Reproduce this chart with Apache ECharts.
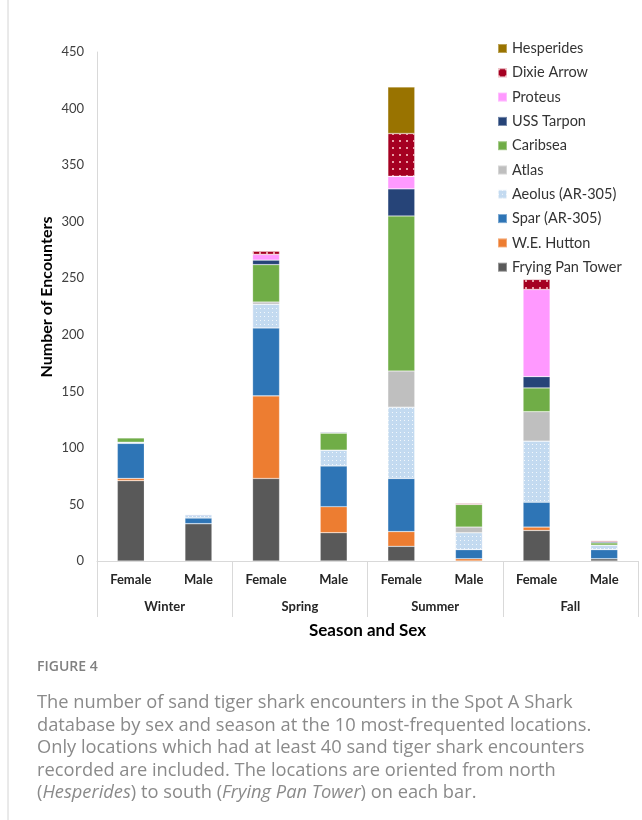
<!DOCTYPE html>
<html lang="en">
<head>
    <meta charset="UTF-8">
    <title>Figure 4</title>
    <script src="https://cdn.jsdelivr.net/npm/echarts@6/dist/echarts.min.js"></script>
    <style>
        html, body {margin: 0; padding: 0; background: #fff;}
        #main {width: 642px; height: 820px;}
    </style>
</head>
<body>
<div id="main"></div>
<script>
    // categories
    let sexLabels = ['Female', 'Male', 'Female', 'Male', 'Female', 'Male', 'Female', 'Male'];
    let seasons = ['Winter', 'Spring', 'Summer', 'Fall'];
    let yTicks = [0, 50, 100, 150, 200, 250, 300, 350, 400, 450];

    // encounters per location, order: Winter F/M, Spring F/M, Summer F/M, Fall F/M
    let fryingPanTower = [71, 33, 73, 25, 13, 0, 27, 2];
    let weHutton = [2, 0, 73, 23, 13, 2, 3, 0];
    let spar = [31, 5, 60, 36, 47, 8, 22, 8];
    let aeolus = [1, 3, 21, 14, 63, 15, 54, 4];
    let atlas = [0, 0, 2, 0, 32, 5, 26, 0];
    let caribsea = [4, 0, 33, 15, 137, 20, 21, 2];
    let ussTarpon = [0, 0, 4, 1, 24, 0, 10, 1];
    let proteus = [0, 0, 5, 0, 11, 0, 77, 0];
    let dixieArrow = [0, 0, 3, 0, 38, 1, 9, 1];
    let hesperides = [0, 0, 0, 0, 41, 0, 0, 0];

    let font = 'Lato, "Open Sans", sans-serif';

    // bottom to top
    let layers = [
        {name: 'Frying Pan Tower', data: fryingPanTower, color: '#595959'},
        {name: 'W.E. Hutton', data: weHutton, color: '#ed7d31'},
        {name: 'Spar (AR-305)', data: spar, color: '#2e75b6'},
        {name: 'Aeolus (AR-305)', data: aeolus, color: '#c3daf0',
            decal: {symbol: 'rect', symbolSize: 1, color: 'rgba(255,255,255,0.8)', dashArrayX: [1, 2.5], dashArrayY: [1, 2.5]}},
        {name: 'Atlas', data: atlas, color: '#bfbfbf'},
        {name: 'Caribsea', data: caribsea, color: '#70ad47'},
        {name: 'USS Tarpon', data: ussTarpon, color: '#264478'},
        {name: 'Proteus', data: proteus, color: '#ff99ff'},
        {name: 'Dixie Arrow', data: dixieArrow, color: '#a50021',
            decal: {symbol: 'rect', symbolSize: 1, color: 'rgba(255,210,210,0.75)', dashArrayX: [1.5, 5], dashArrayY: [1.5, 5]}},
        {name: 'Hesperides', data: hesperides, color: '#997300'}
    ];

    let series = layers.map(l => {
        let style = {color: l.color, borderColor: 'rgba(255,255,255,0.35)', borderWidth: 0.6};
        if (l.decal) style.decal = l.decal;
        return {
            name: l.name,
            type: 'bar',
            stack: 'total',
            barWidth: 27,
            xAxisIndex: 0,
            itemStyle: style,
            emphasis: {disabled: true},
            data: l.data
        };
    });

    let captionLines = [
        'The number of sand tiger shark encounters in the Spot A Shark',
        'database by sex and season at the 10 most-frequented locations.',
        'Only locations which had at least 40 sand tiger shark encounters',
        'recorded are included. The locations are oriented from north',
        '({i|Hesperides}) to south ({i|Frying Pan Tower}) on each bar.'
    ];
    let captionGraphics = captionLines.map((t, k) => ({
        type: 'text',
        x: 37,
        y: 703 + k * 22.5,
        style: {
            text: t,
            fill: '#8a8a8a',
            font: '18.3px "Open Sans", sans-serif',
            verticalAlign: 'middle',
            rich: {i: {fontStyle: 'italic', fontSize: 18.3, fontFamily: '"Open Sans", sans-serif', fill: '#8a8a8a'}}
        }
    }));

    let myChart = echarts.init(document.getElementById('main'), null, {renderer: 'canvas'});
    let option = {
        backgroundColor: '#fff',
        animation: false,
        grid: {left: 97, right: 4, top: 52, height: 509, containLabel: false},
        legend: {
            orient: 'vertical',
            left: 497,
            top: 41,
            padding: 0,
            itemWidth: 9,
            itemHeight: 9,
            itemGap: 9.3,
            icon: 'rect',
            selectedMode: false,
            data: layers.map(l => l.name).reverse(),
            textStyle: {fontFamily: font, fontSize: 14.5, lineHeight: 14, color: '#333'}
        },
        xAxis: [
            {
                type: 'category',
                data: sexLabels,
                position: 'bottom',
                axisLine: {show: true, lineStyle: {color: '#d9d9d9', width: 1}},
                axisTick: {show: false},
                axisLabel: {margin: 12, fontFamily: font, fontSize: 13, fontWeight: 'bold', color: '#262626', interval: 0}
            },
            {
                type: 'category',
                data: seasons,
                position: 'bottom',
                axisLine: {show: false},
                axisTick: {show: true, length: 56, lineStyle: {color: '#d9d9d9', width: 1}},
                axisLabel: {margin: 39, fontFamily: font, fontSize: 13, fontWeight: 'bold', color: '#262626', interval: 0},
                name: 'Season and Sex',
                nameLocation: 'middle',
                nameGap: 61,
                nameTextStyle: {fontFamily: font, fontSize: 17, fontWeight: 'bold', color: '#000'}
            }
        ],
        yAxis: {
            type: 'value',
            min: yTicks[0],
            max: yTicks[yTicks.length - 1],
            interval: 50,
            axisLine: {show: true, lineStyle: {color: '#d9d9d9', width: 1}},
            axisTick: {show: false},
            splitLine: {show: false},
            axisLabel: {margin: 13, fontFamily: font, fontSize: 13, color: '#404040'}
        },
        graphic: [
            {type: 'line', shape: {x1: 8, y1: 0, x2: 8, y2: 820}, style: {stroke: '#d4d4d4', lineWidth: 1}},
            {
                type: 'text', x: 47, y: 297, rotation: Math.PI / 2,
                style: {
                    text: 'Number of Encounters', fill: '#000',
                    font: 'bold 16px Lato, sans-serif', align: 'center', verticalAlign: 'middle'
                }
            },
            {
                type: 'text', x: 37, y: 667,
                style: {text: 'FIGURE 4', fill: '#808080', font: '600 14px "Open Sans", sans-serif', verticalAlign: 'middle'}
            }
        ].concat(captionGraphics),
        series: series
    };
    myChart.setOption(option);
</script>
</body>
</html>
